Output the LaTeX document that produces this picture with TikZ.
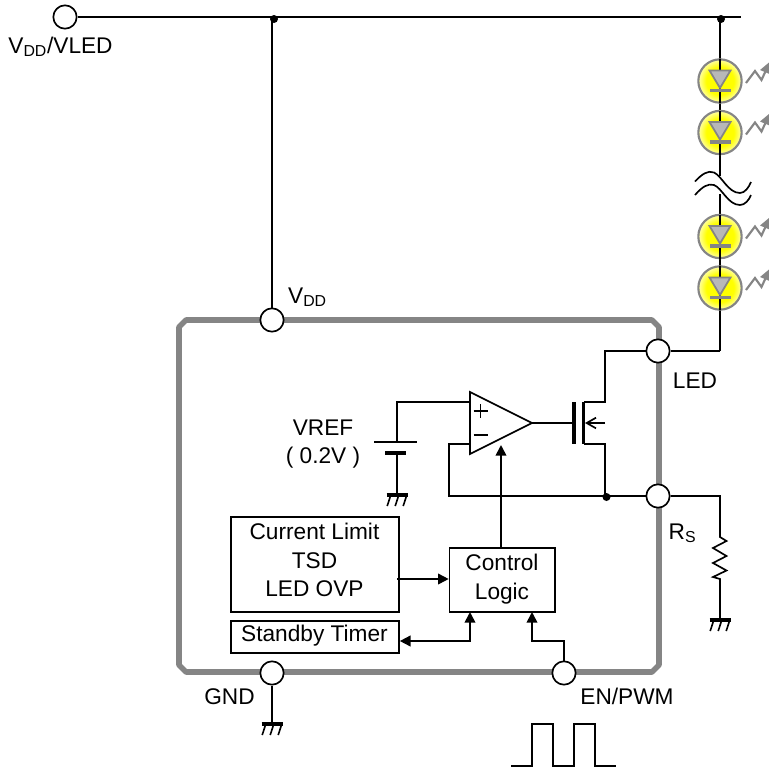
\documentclass[tikz,border=0pt]{standalone}
\usepackage{fontspec}
\setmainfont{Liberation Sans}
\usetikzlibrary{arrows.meta,calc}
\definecolor{chipgray}{HTML}{858585}
\definecolor{diodefill}{HTML}{B8B8B8}
\pgfdeclareradialshading{ledshade}{\pgfpoint{0cm}{0cm}}{color(0bp)=(yellow); color(16bp)=(yellow); color(25bp)=(yellow!35!white); color(50bp)=(yellow!35!white)}
\tikzset{
 x=0.75pt,y=-0.75pt,
 wire/.style={draw=black,line width=1.25pt,line join=miter},
 term/.style={circle,draw=black,fill=white,line width=1.25pt,minimum size=17.5pt,inner sep=0pt},
 dotnode/.style={circle,fill=black,minimum size=6pt,inner sep=0pt},
 block/.style={rectangle,draw=black,fill=white,line width=1.25pt,inner sep=0pt,align=center},
 lab/.style={font=\fontsize{17}{19}\selectfont,inner sep=0pt,anchor=base},
 arr/.style={wire,-{Triangle[length=8pt,width=8pt]}},
 ledball/.style={circle,draw=chipgray,line width=1.6pt,minimum size=32.5pt,inner sep=0pt,shading=ledshade},
}
\newcommand{\gnd}[1]{%
 \draw[line width=2.5pt] ($(#1)+(-10.5,0)$) -- ($(#1)+(10.5,0)$);
 \foreach \dx in {-8,0,8}{\draw[line width=1.2pt] ($(#1)+(\dx+1.8,0)$) -- ($(#1)+(\dx-1.8,11)$);}
}
\newcommand{\ledsym}[2]{%
 \node[ledball] (#2) at (#1) {};
 \draw[wire] ($(#1)+(0,-22)$) -- ($(#1)+(0,22)$);
 \filldraw[fill=diodefill,draw=chipgray,line width=1.3pt,line join=miter] ($(#1)+(-10.5,-10.5)$) -- ($(#1)+(10.5,-10.5)$) -- ($(#1)+(0,7)$) -- cycle;
 \fill[chipgray] ($(#1)+(-10.5,7.8)$) rectangle ($(#1)+(10.5,11.4)$);
 \draw[chipgray,line width=1.6pt,line join=miter] ($(#1)+(26,2)$) -- ($(#1)+(35,-10)$) -- ($(#1)+(41.5,-1)$) -- ($(#1)+(47,-13)$);
 \fill[chipgray] ($(#1)+(52,-21)$) -- ($(#1)+(40,-11)$) -- ($(#1)+(52,-6)$) -- cycle;
}
\begin{document}
\begin{tikzpicture}
\useasboundingbox (0,0) rectangle (769,769);
% named points
\coordinate (busend) at (741,17);
\node[dotnode] (j1) at (274,19) {};
\node[dotnode] (j2) at (721,19) {};
\coordinate (wtop) at (720,176);
\coordinate (wbot) at (720,194);
\coordinate (ledcorner) at (720,351);
% chip outline
\draw[chipgray,line width=4.2pt,line join=round] (186,320) -- (652,320) -- (659,327) -- (659,665) -- (652,672) -- (186,672) -- (179,665) -- (179,327) -- cycle;
% top wires
\node[term] (tvled) at (65,17) {};
\draw[wire] (tvled) -- (busend);
\draw[wire] (720,17) -- (wtop);
\draw[wire] (wbot) -- (ledcorner);
\node[term] (tvdd) at (272,320) {};
\draw[wire] (272,17) -- (tvdd);
% LEDs
\ledsym{720,81}{la}
\ledsym{720,132.5}{lb}
\ledsym{720,236.5}{lc}
\ledsym{720,288}{ld}
% squiggle
\draw[wire] (695,181.5) .. controls (702,174) and (708,170) .. (714,172.5) .. controls (722,176) and (728,193) .. (740,193) .. controls (745,193) and (749,187) .. (751,182);
\draw[wire] (695,195) .. controls (702,187) and (708,183) .. (714,185) .. controls (722,188) and (728,205) .. (740,205) .. controls (745,205) and (749,200) .. (751,195);
% terminals
\node[term] (tled) at (658,351) {};
\node[term] (trs) at (658,496) {};
\node[term] (tgnd) at (272,673) {};
\node[term] (ten) at (564,673) {};
% amplifier
\coordinate (opa) at (470,392);
\coordinate (opb) at (470,454);
\coordinate (opo) at (532,423);
\draw[wire] (opa) -- (opo) -- (opb) -- cycle;
\draw[wire,line width=1pt] (473.5,411) -- (488,411) (480.7,404) -- (480.7,418);
\draw[wire,line width=1pt] (473.5,435) -- (488,435);
% FET
\coordinate (gate) at (572,423);
\draw[wire] (opo) -- (gate);
\draw[line width=3pt] (574,402) -- (574,444);
\draw[line width=2.2pt] (583.5,402) -- (583.5,444);
\draw[wire] (tled) -- (605,351) -- (605,402) -- (584,402);
\draw[wire] (584,444) -- (605,444) -- (605,496);
\draw[wire,-{Straight Barb[length=7pt,width=8pt]}] (605,423) -- (585,423);
\node[dotnode] (j3) at (606.5,497) {};
\draw[wire] (470,444) -- (449,444) -- (449,496) -- (trs);
% Vref
\draw[wire] (470,402) -- (397,402) -- (397,442);
\draw[wire] (374,442) -- (417,442);
\draw[line width=2.8pt] (385,453) -- (406,453);
\coordinate (g1) at (397,495);
\draw[wire] (397,453) -- (g1);
\gnd{g1}
% blocks
\node[block,minimum width=126pt,minimum height=71.25pt] (cl) at (315,564.2) {};
\node[block,minimum width=126pt,minimum height=24.2pt] (sb) at (315,637) {};
\node[block,minimum width=79pt,minimum height=48pt] (ctl) at (502.2,579.7) {};
\draw[arr] (397,579) -- (ctl.west|-0,579);
\draw[wire,{Triangle[length=8pt,width=8pt]}-{Triangle[length=8pt,width=8pt]}] (sb.east|-0,641) -- (470,641) -- (470,612);
\draw[arr] (ten.north) -- (564,641) -- (532,641) -- (532,612);
\draw[arr] (501,548) -- (501,445);
% right side wires
\draw[wire] (tled) -- (ledcorner);
\coordinate (rtop) at (720,537);
\coordinate (rbot) at (720,579);
\coordinate (g2) at (720,620);
\draw[wire] (trs) -- (720,496) -- (rtop) -- (726.5,541) -- (713,548) -- (726.5,556) -- (713,563) -- (726.5,570.5) -- (713,577) -- (rbot) -- (g2);
\gnd{g2}
% GND
\coordinate (g3) at (272,724);
\draw[wire] (tgnd) -- (g3);
\gnd{g3}
% pulse
\coordinate (p0) at (511,766);
\coordinate (p1) at (616,766);
\draw[wire] (p0) -- (532,766) -- (532,724) -- (553,724) -- (553,766) -- (574,766) -- (574,724) -- (595,724) -- (595,766) -- (p1);
% labels
\node[lab] (n1) at (60.5,53) {V\textsubscript{DD}/VLED};
\node[lab] (n2) at (307.5,303) {V\textsubscript{DD}};
\node[lab] (n3) at (323,435) {VREF};
\node[lab] (n4) at (323,463) {( 0.2V )};
\node[lab] (n5) at (695,388) {LED};
\node[lab] (n6) at (682.5,539) {R\textsubscript{S}};
\node[lab] (n7) at (229.5,704) {GND};
\node[lab] (n8) at (627,704) {EN/PWM};
\node[lab] (n9) at (314.5,539) {Current Limit};
\node[lab] (n10) at (314.5,568) {TSD};
\node[lab] (n11) at (314.5,596.5) {LED OVP};
\node[lab] (n12) at (314.5,641.5) {Standby Timer};
\node[lab] (n13) at (502,570) {Control};
\node[lab] (n14) at (502,599) {Logic};
\end{tikzpicture}
\end{document}
